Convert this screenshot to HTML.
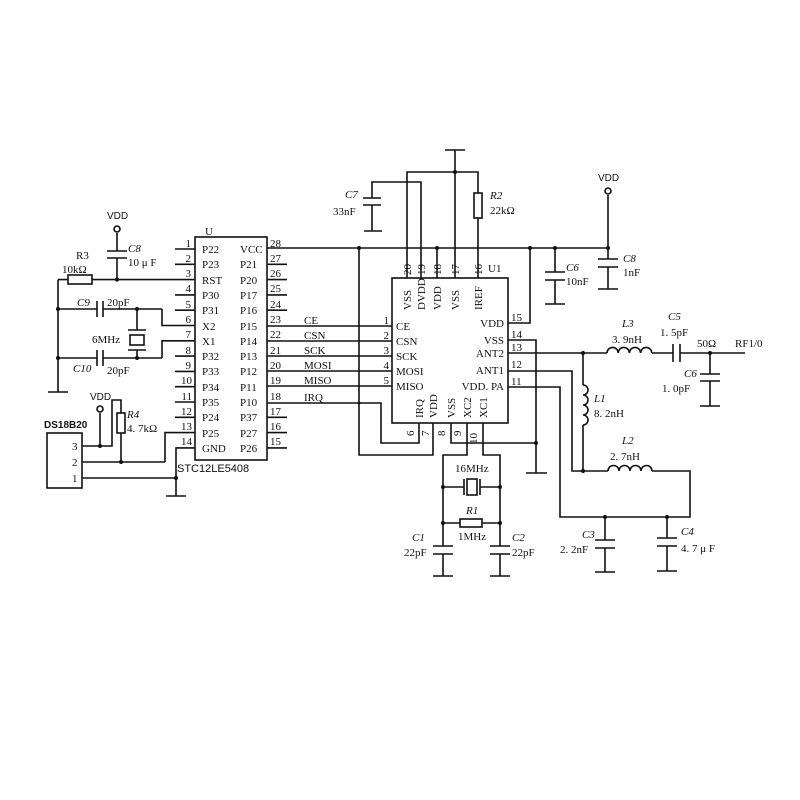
<!DOCTYPE html>
<html><head><meta charset="utf-8"><style>
html,body{margin:0;padding:0;background:#fff;}
svg{display:block;}
text{font-family:"Liberation Serif",serif;font-size:11px;fill:#111;}
.s{font-family:"Liberation Sans",sans-serif;font-size:10px;}
</style></head><body>
<svg width="800" height="800" viewBox="0 0 800 800" xmlns="http://www.w3.org/2000/svg">
<g stroke="#111" stroke-width="1.6" fill="none">
<rect x="195" y="237" width="72" height="223"/>
<path d="M175 249H195M175 264.3H195M175 294.9H195M175 310.2H195M175 356.1H195M175 371.4H195M175 386.7H195M175 402H195M175 417.3H195"/>
<path d="M58 279.6H195"/>
<path d="M162 309V325.5H195M162 358V340.8H195"/>
<path d="M165 462V432.6H195M176 496V447.9H195"/>
<path d="M267 264.3H287M267 279.6H287M267 294.9H287M267 310.2H287M267 417.3H287M267 432.6H287M267 447.9H287"/>
<path d="M267 248H608"/>
<path d="M267 326H392M267 341H392M267 356H392M267 371H392M267 386H392"/>
<path d="M267 403H381V443H419V423"/>
<path d="M359 248V455H433V423"/>
<rect x="392" y="278" width="116" height="145"/>
<path d="M407 278V172H478V193M478 218V278"/>
<path d="M421 278V182H372V198M372 205V231M363 198H381M363 205H381M364 231H382"/>
<path d="M437 278V248"/>
<path d="M455 278V150M445 150H465"/>
<path d="M508 323H530V248"/>
<path d="M508 340H536V473M526 473H547"/>
<path d="M508 353H607M652 353H673M680 353H745"/>
<path d="M673 344V362M680 344V362"/>
<path d="M710 353V374M710 381V406M700 374H720M700 381H720M700 406H720"/>
<path d="M508 371H572V471H608M652 471H690V517H560V387H508"/>
<path d="M583 353V385M583 425V471"/>
<path d="M605 517V540M605 548V572M595 540H615M595 548H615M595 572H615"/>
<path d="M667 517V538M667 546V571M657 538H677M657 546H677M657 571H677"/>
<path d="M451 423V443H536"/>
<path d="M467 423V455H443V546M483 423V455H500V546"/>
<path d="M443 487H464M480 487H500M464 479V495M480 479V495"/>
<path d="M443 523H460M482 523H500"/>
<path d="M433 546H453M433 554H453M443 554V576M433 576H453"/>
<path d="M490 546H510M490 554H510M500 554V576M490 576H510"/>
<path d="M608 195V259M608 267V289M598 259H618M598 267H618M598 289H618"/>
<path d="M555 248V272M555 280V304M545 272H565M545 280H565M545 304H565"/>
<path d="M117 233V251M117 258V279.6M107 251H127M107 258H127"/>
<path d="M58 279.6V392M48 392H68"/>
<path d="M58 309H97M103 309H162M97 301V317M103 301V317"/>
<path d="M58 358H97M103 358H162M97 350V366M103 350V366"/>
<path d="M137 309V330M137 350V358M128 330H146M128 350H146"/>
<rect x="47" y="433" width="35" height="55"/>
<path d="M82 446H112V400H121V413M121 433V462M82 462H165M82 478H176M100 413V446M166 496H186"/>
</g>
<g fill="#fff" stroke="#111" stroke-width="1.6">
<rect x="68" y="275" width="24" height="9"/>
<rect x="130" y="335" width="14" height="10"/>
<rect x="117" y="413" width="8" height="20"/>
<rect x="474" y="193" width="8" height="25"/>
<rect x="460" y="519" width="22" height="8"/>
<rect x="467" y="479" width="10" height="16"/>
<circle cx="117" cy="229" r="3"/><circle cx="100" cy="409" r="3"/><circle cx="608" cy="191" r="3"/>
</g>
<g fill="#111">
<circle cx="117" cy="279.6" r="2"/><circle cx="58" cy="309" r="2"/><circle cx="58" cy="358" r="2"/>
<circle cx="137" cy="309" r="2"/><circle cx="137" cy="358" r="2"/><circle cx="100" cy="446" r="2"/>
<circle cx="121" cy="462" r="2"/><circle cx="176" cy="478" r="2"/>
<circle cx="359" cy="248" r="2"/><circle cx="437" cy="248" r="2"/><circle cx="530" cy="248" r="2"/>
<circle cx="555" cy="248" r="2"/><circle cx="608" cy="248" r="2"/><circle cx="455" cy="172" r="2"/>
<circle cx="583" cy="353" r="2"/><circle cx="710" cy="353" r="2"/><circle cx="583" cy="471" r="2"/>
<circle cx="536" cy="443" r="2"/><circle cx="605" cy="517" r="2"/><circle cx="667" cy="517" r="2"/>
<circle cx="443" cy="487" r="2"/><circle cx="500" cy="487" r="2"/><circle cx="443" cy="523" r="2"/><circle cx="500" cy="523" r="2"/>
<circle cx="359" cy="403" r="1.5"/>
</g>
<g stroke="#111" stroke-width="1.6" fill="none">
<path d="M607 353a5.6 5.6 0 0 1 11.2 0a5.6 5.6 0 0 1 11.2 0a5.6 5.6 0 0 1 11.2 0a5.6 5.6 0 0 1 11.2 0"/>
<path d="M608 471a5.5 5.5 0 0 1 11 0a5.5 5.5 0 0 1 11 0a5.5 5.5 0 0 1 11 0a5.5 5.5 0 0 1 11 0"/>
<path d="M583 385a5 5 0 0 1 0 10a5 5 0 0 1 0 10a5 5 0 0 1 0 10a5 5 0 0 1 0 10"/>
</g>
<text x="202" y="253">P22</text><text x="202" y="268">P23</text><text x="202" y="284">RST</text>
<text x="202" y="299">P30</text><text x="202" y="314">P31</text><text x="202" y="330">X2</text>
<text x="202" y="345">X1</text><text x="202" y="360">P32</text><text x="202" y="375">P33</text>
<text x="202" y="391">P34</text><text x="202" y="406">P35</text><text x="202" y="421">P24</text>
<text x="202" y="437">P25</text><text x="202" y="452">GND</text>
<text x="240" y="253">VCC</text><text x="240" y="268">P21</text><text x="240" y="284">P20</text>
<text x="240" y="299">P17</text><text x="240" y="314">P16</text><text x="240" y="330">P15</text>
<text x="240" y="345">P14</text><text x="240" y="360">P13</text><text x="240" y="375">P12</text>
<text x="240" y="391">P11</text><text x="240" y="406">P10</text><text x="240" y="421">P37</text>
<text x="240" y="437">P27</text><text x="240" y="452">P26</text>
<g text-anchor="end">
<text x="191" y="247">1</text><text x="191" y="262">2</text><text x="191" y="277">3</text><text x="191" y="292">4</text>
<text x="191" y="308">5</text><text x="191" y="323">6</text><text x="191" y="338">7</text><text x="191" y="354">8</text>
<text x="191" y="369">9</text><text x="192" y="384">10</text><text x="192" y="400">11</text><text x="192" y="415">12</text>
<text x="192" y="430">13</text><text x="192" y="445">14</text>
</g>
<text x="270" y="247">28</text><text x="270" y="262">27</text><text x="270" y="277">26</text><text x="270" y="292">25</text>
<text x="270" y="308">24</text><text x="270" y="323">23</text><text x="270" y="338">22</text><text x="270" y="354">21</text>
<text x="270" y="369">20</text><text x="270" y="384">19</text><text x="270" y="400">18</text><text x="270" y="415">17</text>
<text x="270" y="430">16</text><text x="270" y="445">15</text>
<text x="205" y="235">U</text>
<text class="s" x="177" y="472" style="font-size:11px">STC12LE5408</text>
<text x="304" y="324">CE</text><text x="304" y="339">CSN</text><text x="304" y="354">SCK</text>
<text x="304" y="369">MOSI</text><text x="304" y="384">MISO</text><text x="304" y="401">IRQ</text>
<text class="s" x="107" y="219">VDD</text><text x="128" y="252" font-style="italic">C8</text><text x="128" y="266">10 μ F</text>
<text x="76" y="259">R3</text><text x="62" y="273">10kΩ</text>
<text x="77" y="306" font-style="italic">C9</text><text x="107" y="306">20pF</text>
<text x="92" y="343">6MHz</text>
<text x="73" y="372" font-style="italic">C10</text><text x="107" y="374">20pF</text>
<text class="s" x="90" y="400">VDD</text>
<text x="127" y="418" font-style="italic">R4</text><text x="127" y="432">4. 7kΩ</text>
<text class="s" x="44" y="428" style="font-weight:bold">DS18B20</text>
<text x="72" y="450">3</text><text x="72" y="466">2</text><text x="72" y="482">1</text>
<text x="396" y="330">CE</text><text x="396" y="345">CSN</text><text x="396" y="360">SCK</text>
<text x="396" y="375">MOSI</text><text x="396" y="390">MISO</text>
<g text-anchor="end"><text x="504" y="327">VDD</text><text x="504" y="344">VSS</text><text x="504" y="357">ANT2</text>
<text x="504" y="374">ANT1</text><text x="504" y="390">VDD. PA</text>
<text x="389" y="324">1</text><text x="389" y="339">2</text><text x="389" y="354">3</text><text x="389" y="369">4</text><text x="389" y="384">5</text></g>
<text x="511" y="321">15</text><text x="511" y="338">14</text><text x="511" y="351">13</text><text x="511" y="368">12</text><text x="511" y="385">11</text>
<text x="488" y="272">U1</text>
<g transform="rotate(-90)">
<text x="-310" y="411">VSS</text><text x="-310" y="425">DVDD</text><text x="-310" y="441">VDD</text><text x="-310" y="459">VSS</text><text x="-310" y="482">IREF</text>
<text x="-275" y="411">20</text><text x="-275" y="425">19</text><text x="-275" y="441">18</text><text x="-275" y="459">17</text><text x="-275" y="482">16</text>
<text x="-418" y="423">IRQ</text><text x="-418" y="437">VDD</text><text x="-418" y="455">VSS</text><text x="-418" y="471">XC2</text><text x="-418" y="487">XC1</text>
<text x="-436" y="414">6</text><text x="-436" y="429">7</text><text x="-436" y="445">8</text><text x="-436" y="461">9</text><text x="-444" y="477">10</text>
</g>
<text x="345" y="198" font-style="italic">C7</text><text x="333" y="215">33nF</text>
<text x="490" y="199" font-style="italic">R2</text><text x="490" y="214">22kΩ</text>
<text class="s" x="598" y="181">VDD</text>
<text x="566" y="271" font-style="italic">C6</text><text x="566" y="285">10nF</text>
<text x="623" y="262" font-style="italic">C8</text><text x="623" y="276">1nF</text>
<text x="622" y="327" font-style="italic">L3</text><text x="612" y="343">3. 9nH</text>
<text x="668" y="320" font-style="italic">C5</text><text x="660" y="336">1. 5pF</text>
<text x="697" y="347">50Ω</text><text x="735" y="347">RF1/0</text>
<text x="684" y="377" font-style="italic">C6</text><text x="662" y="392">1. 0pF</text>
<text x="594" y="402" font-style="italic">L1</text><text x="594" y="417">8. 2nH</text>
<text x="622" y="444" font-style="italic">L2</text><text x="610" y="460">2. 7nH</text>
<text x="582" y="538" font-style="italic">C3</text><text x="560" y="553">2. 2nF</text>
<text x="681" y="535" font-style="italic">C4</text><text x="681" y="552">4. 7 μ F</text>
<text x="455" y="472">16MHz</text>
<text x="466" y="514" font-style="italic">R1</text><text x="458" y="540">1MHz</text>
<text x="412" y="541" font-style="italic">C1</text><text x="404" y="556">22pF</text>
<text x="512" y="541" font-style="italic">C2</text><text x="512" y="556">22pF</text>
</svg>
</body></html>
